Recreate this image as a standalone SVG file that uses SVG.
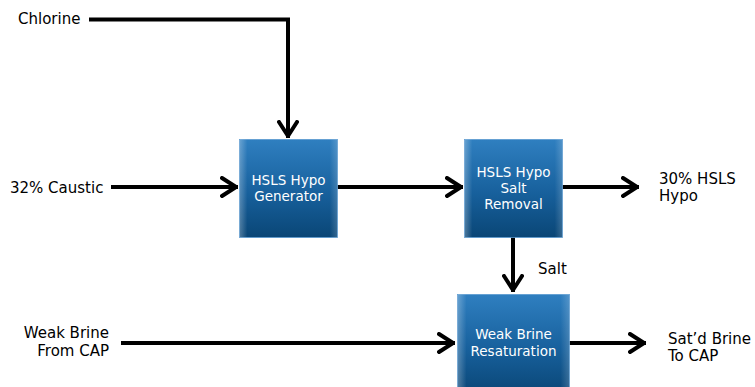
<svg xmlns="http://www.w3.org/2000/svg" width="755" height="387" viewBox="0 0 755 387">
<defs>
<linearGradient id="bg" x1="0" y1="0" x2="0" y2="1">
<stop offset="0" stop-color="#2f7fc0"/>
<stop offset="0.55" stop-color="#17609c"/>
<stop offset="1" stop-color="#0a4676"/>
</linearGradient>
<linearGradient id="edge" x1="0" y1="0" x2="1" y2="0">
<stop offset="0" stop-color="#ffffff" stop-opacity="0.28"/>
<stop offset="0.08" stop-color="#ffffff" stop-opacity="0"/>
<stop offset="0.92" stop-color="#ffffff" stop-opacity="0"/>
<stop offset="1" stop-color="#ffffff" stop-opacity="0.18"/>
</linearGradient>
<marker id="ah" viewBox="0 0 20 22" refX="18" refY="11" markerWidth="20" markerHeight="22" markerUnits="userSpaceOnUse" orient="auto">
<polyline points="2,2 16,11 2,20" fill="none" stroke="#000" stroke-width="4" stroke-linejoin="round" stroke-linecap="round"/>
</marker>
</defs>
<style>
.lbl{font-family:"DejaVu Sans","Verdana",sans-serif;font-size:15px;fill:#000}
.bt{font-family:"DejaVu Sans","Verdana",sans-serif;font-size:13.5px;fill:#fff;text-anchor:middle}
.ln{fill:none;stroke:#000;stroke-width:4;marker-end:url(#ah)}
.box{fill:url(#bg);stroke:#5a9ad0;stroke-width:0.8}
</style>
<g id="connectors">
<path class="ln" d="M89,19.5 H288 V138"/>
<path class="ln" d="M111,187 H238"/>
<path class="ln" d="M337,187 H463"/>
<path class="ln" d="M562,187 H639"/>
<path class="ln" d="M513,237 V292"/>
<path class="ln" d="M121,343 H455"/>
<path class="ln" d="M569,343 H646"/>
</g>
<g id="labels">
<text class="lbl" x="18" y="24">Chlorine</text>
<text class="lbl" x="10" y="193">32% Caustic</text>
<text class="lbl" x="659" y="184">30% HSLS</text>
<text class="lbl" x="659" y="201">Hypo</text>
<text class="lbl" x="538" y="274">Salt</text>
<text class="lbl" x="109" y="338" text-anchor="end">Weak Brine</text>
<text class="lbl" x="109" y="356" text-anchor="end">From CAP</text>
<text class="lbl" x="668" y="344">Sat’d Brine</text>
<text class="lbl" x="668" y="361">To CAP</text>
</g>
<g id="n1">
<rect class="box" x="239.5" y="139.5" width="98" height="98"/>
<rect x="239.5" y="139.5" width="98" height="98" fill="url(#edge)"/>
<text class="bt" x="288.5" y="185">HSLS Hypo</text>
<text class="bt" x="288.5" y="201">Generator</text>
</g>
<g id="n2">
<rect class="box" x="464.5" y="139.5" width="98" height="98"/>
<rect x="464.5" y="139.5" width="98" height="98" fill="url(#edge)"/>
<text class="bt" x="513.5" y="177">HSLS Hypo</text>
<text class="bt" x="513.5" y="193">Salt</text>
<text class="bt" x="513.5" y="209">Removal</text>
</g>
<g id="n3">
<rect class="box" x="457.5" y="294.5" width="112" height="100"/>
<rect x="457.5" y="294.5" width="112" height="100" fill="url(#edge)"/>
<text class="bt" x="513.5" y="339">Weak Brine</text>
<text class="bt" x="513.5" y="356">Resaturation</text>
</g>
</svg>
